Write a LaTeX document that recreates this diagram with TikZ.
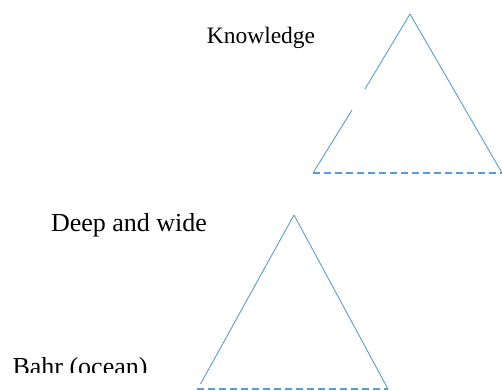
\documentclass[tikz,border=0pt]{standalone}
\usepackage{fontspec}
\setmainfont{Liberation Serif}
\definecolor{lineblue}{RGB}{91,155,213}
\tikzset{
  side/.style={draw=lineblue, line width=0.9pt},
  base/.style={draw=lineblue, line width=1.1pt, dash pattern=on 7pt off 4pt},
  lbl/.style={anchor=base, inner sep=0pt, font=\fontsize{26}{30}\selectfont},
}
\begin{document}
\begin{tikzpicture}[x=1pt, y=-1pt]
\useasboundingbox (0,0) rectangle (502,390);
% knowledge triangle
\coordinate (ktop) at (410,14);
\coordinate (kleft) at (313,173);
\coordinate (kright) at (502,173);
\coordinate (kgapa) at (365,89);
\coordinate (kgapb) at (352,110);
\draw[side](ktop) -- (kgapa);
\draw[side](kgapb) -- (kleft);
\draw[side](ktop) -- (kright);
\draw[base](kleft) -- (kright);
\node[lbl, font=\fontsize{23.5}{28}\selectfont] (know) at (261,44) {Knowledge};
% ocean triangle
\coordinate (otop) at (294,215);
\coordinate (oleft) at (200.5,384);
\coordinate (oright) at (388,389);
\coordinate (obase) at (197,389);
\draw[side](otop) -- (oleft);
\draw[side](otop) -- (oright);
\draw[base](obase) -- (oright);
\node[lbl] (deep) at (129,231.5) {Deep and wide};
\begin{scope}
\clip (0,340) rectangle (200,372);
\node[lbl] (bahr) at (80,375) {Bahr (ocean)};
\end{scope}
\end{tikzpicture}
\end{document}
